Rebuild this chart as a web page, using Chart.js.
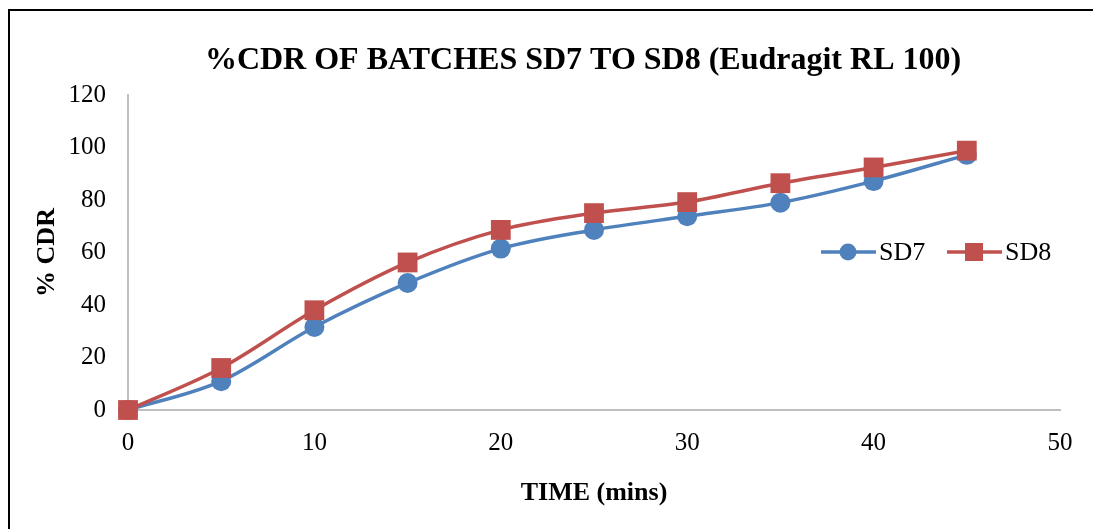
<!DOCTYPE html>
<html>
<head>
<meta charset="utf-8">
<script src="https://cdn.jsdelivr.net/npm/chart.js@4.4.0/dist/chart.umd.min.js"></script>
<style>
    html, body { margin: 0; padding: 0; background: #fff; }
    #wrap { position: absolute; left: 0; top: 0; width: 1093px; height: 529px; }
</style>
</head>
<body>
<div id="wrap"><canvas id="cdrChart" width="1093" height="529"></canvas></div>
<script>
// Datos
const times = [0, 5, 10, 15, 20, 25, 30, 35, 40, 45];
const sd7 = [0, 11, 31.6, 48.4, 61.5, 68.6, 73.8, 79, 87.2, 97.2];
const sd8 = [0, 16, 38, 56.2, 68.6, 75, 79.2, 86.4, 92.4, 98.8];
const seriesNames = ['SD7', 'SD8'];
const yTicks = [0, 20, 40, 60, 80, 100, 120];

const blue = '#4F81BD';
const red = '#C0504D';
const serif = '"Liberation Serif", "Times New Roman", serif';

// Borde del marco, título y leyenda dibujados a mano
const framePlugin = {
    id: 'frame',
    beforeDraw(chart) {
        const ctx = chart.ctx;
        ctx.save();
        ctx.fillStyle = '#fff';
        ctx.fillRect(0, 0, chart.width, chart.height);
        ctx.strokeStyle = '#000';
        ctx.lineWidth = 2;
        ctx.beginPath();
        ctx.moveTo(9, chart.height);
        ctx.lineTo(9, 10);
        ctx.lineTo(chart.width, 10);
        ctx.stroke();
        ctx.restore();
    },
    afterDraw(chart) {
        const ctx = chart.ctx;
        ctx.save();
        ctx.fillStyle = '#000';
        ctx.font = 'bold 32px ' + serif;
        ctx.textAlign = 'center';
        ctx.textBaseline = 'middle';
        ctx.fillText('%CDR OF BATCHES SD7 TO SD8 (Eudragit RL 100)', 583, 61);

        // Leyenda
        const y = 252;
        const items = [
            { x: 821, color: blue, style: 'circle' },
            { x: 947, color: red, style: 'rect' }
        ];
        items.forEach((it, i) => {
            ctx.strokeStyle = it.color;
            ctx.lineWidth = 3.5;
            ctx.beginPath();
            ctx.moveTo(it.x, y);
            ctx.lineTo(it.x + 55, y);
            ctx.stroke();
            ctx.fillStyle = it.color;
            if (it.style === 'circle') {
                ctx.beginPath();
                ctx.arc(it.x + 27, y, 8.5, 0, Math.PI * 2);
                ctx.fill();
            } else {
                ctx.fillRect(it.x + 18, y - 9, 18, 18);
            }
            ctx.fillStyle = '#000';
            ctx.font = '26px ' + serif;
            ctx.textAlign = 'left';
            ctx.fillText(seriesNames[i], it.x + 58, y + 1);
        });
        ctx.restore();
    }
};

function toPoints(values) {
    return times.map((t, i) => ({ x: t, y: values[i] }));
}

document.addEventListener('DOMContentLoaded', function() {
    const ctx = document.getElementById('cdrChart').getContext('2d');
    new Chart(ctx, {
        type: 'line',
        data: {
            datasets: [{
                label: seriesNames[0],
                data: toPoints(sd7),
                borderColor: blue,
                backgroundColor: blue,
                borderWidth: 3.5,
                pointStyle: 'circle',
                pointRadius: 10,
                pointBorderWidth: 0,
                cubicInterpolationMode: 'monotone',
                clip: false,
                order: 1
            }, {
                label: seriesNames[1],
                data: toPoints(sd8),
                borderColor: red,
                backgroundColor: red,
                borderWidth: 3.5,
                pointStyle: 'rect',
                pointRadius: 14,
                pointBorderWidth: 0,
                cubicInterpolationMode: 'monotone',
                clip: false,
                order: 0
            }]
        },
        options: {
            responsive: false,
            animation: false,
            layout: {
                padding: { left: 20, top: 95, right: 33, bottom: 10 }
            },
            plugins: {
                legend: { display: false },
                title: { display: false },
                tooltip: { enabled: false }
            },
            scales: {
                x: {
                    type: 'linear',
                    min: 0,
                    max: 50,
                    ticks: {
                        stepSize: 10,
                        color: '#000',
                        font: { family: serif, size: 25 },
                        padding: 18
                    },
                    grid: { display: false, drawTicks: false },
                    border: { display: true, color: '#BFBFBF', width: 2 },
                    title: {
                        display: true,
                        text: 'TIME (mins)',
                        color: '#000',
                        font: { family: serif, size: 26, weight: 'bold' },
                        padding: { top: 4, bottom: 10 }
                    },
                    afterFit(scale) { scale.height = 109; }
                },
                y: {
                    min: 0,
                    max: 120,
                    afterBuildTicks(scale) {
                        scale.ticks = yTicks.map(v => ({ value: v }));
                    },
                    ticks: {
                        color: '#000',
                        font: { family: serif, size: 25 },
                        padding: 22
                    },
                    grid: { display: false, drawTicks: false },
                    border: { display: true, color: '#BFBFBF', width: 2 },
                    title: {
                        display: true,
                        text: '% CDR',
                        color: '#000',
                        font: { family: serif, size: 26, weight: 'bold' },
                        padding: { top: 12, bottom: 4 }
                    },
                    afterFit(scale) { scale.width = 108; }
                }
            }
        },
        plugins: [framePlugin]
    });
});
</script>
</body>
</html>
